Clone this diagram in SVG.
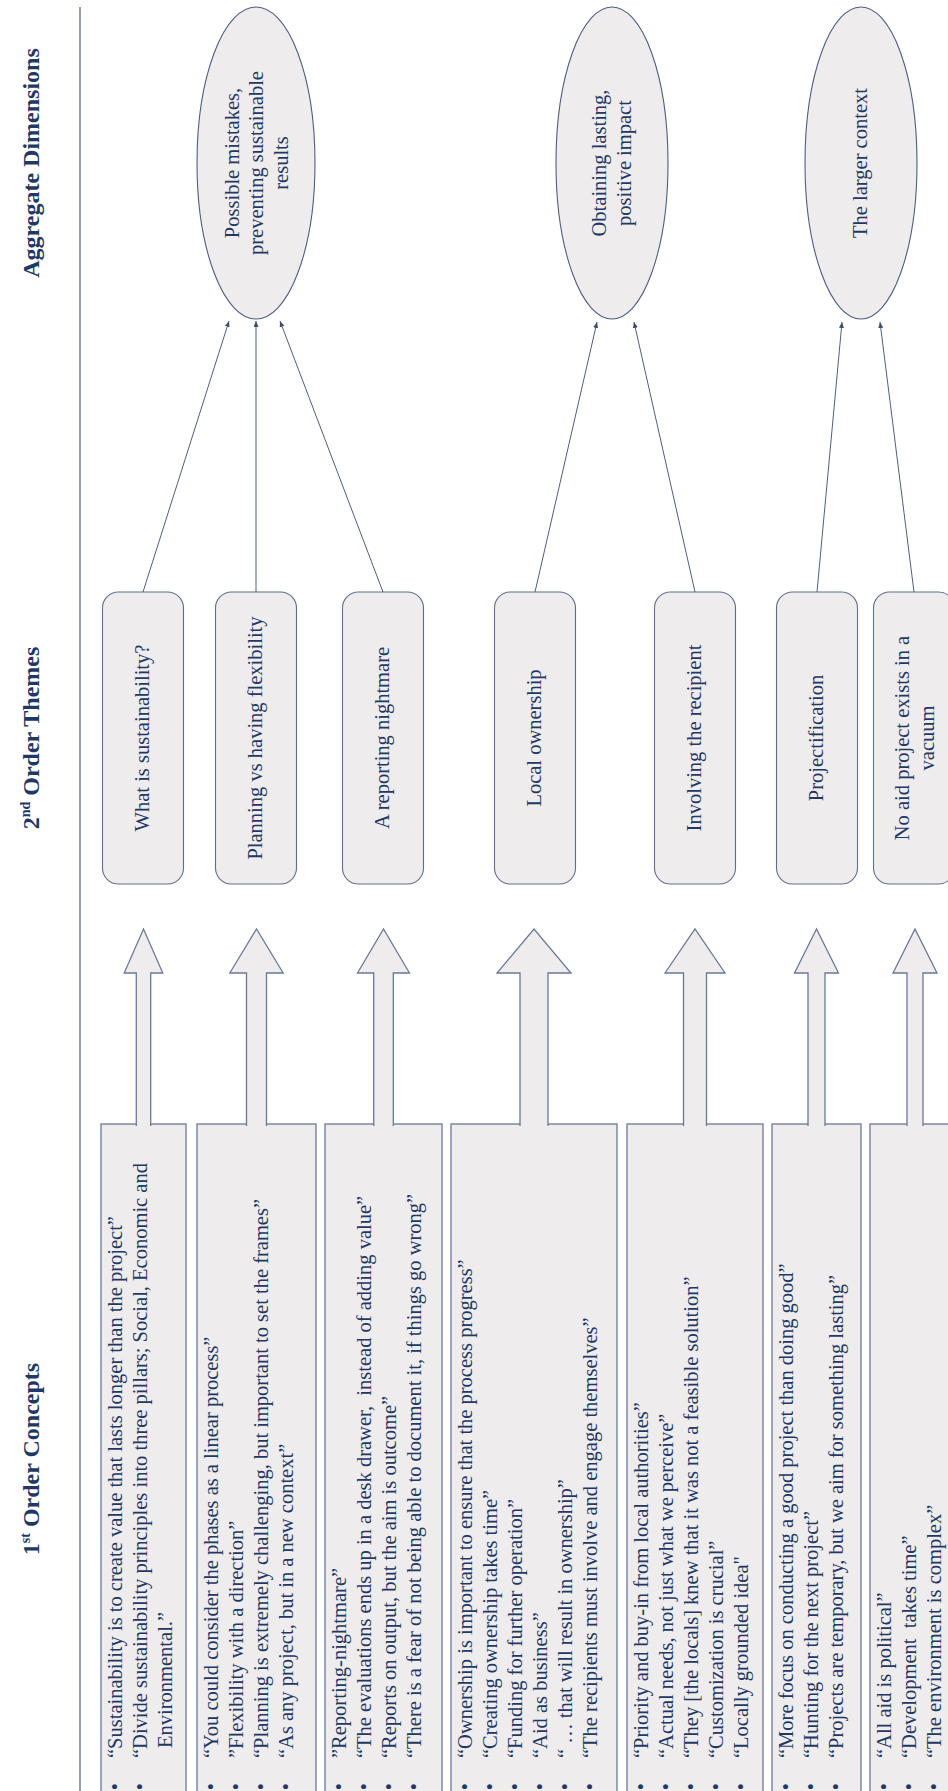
<svg xmlns="http://www.w3.org/2000/svg" width="948" height="1791" viewBox="0 0 948 1791">
  <defs>
    <style>
      .hd { font-family: "Liberation Serif", "Times New Roman", serif; font-weight: bold; font-size: 24px; fill: #1F3864; text-anchor: middle; }
      .tx { font-family: "Liberation Serif", "Times New Roman", serif; font-size: 20.5px; fill: #1F3864; }
      .mid { text-anchor: middle; }
      .box { fill: #EEECED; stroke: #6A7898; stroke-width: 1.3; }
      .theme { fill: #EEECED; stroke: #5F6E8E; stroke-width: 1.1; }
      .dim { fill: #EEECED; stroke: #4E5E80; stroke-width: 1.1; }
      .block { fill: #EEECED; stroke: #6A7898; stroke-width: 1.3; }
      .link { fill: none; stroke: #4E5E80; stroke-width: 1; marker-end: url(#tip); }
      .sep { stroke: #4E5E80; stroke-width: 1.2; }
    </style>
    <marker id="tip" viewBox="0 0 6 5" refX="6" refY="2.5" markerWidth="6" markerHeight="5" markerUnits="userSpaceOnUse" orient="auto">
      <path d="M0,0 L6,2.5 L0,5 z" fill="#3E4E70"/>
    </marker>
  </defs>

  <!-- Drawn as a landscape sheet, turned a quarter turn counter-clockwise -->
  <g transform="translate(0 1791) rotate(-90)">

    <!-- column headings -->
    <g id="headings">
      <text class="hd" x="332" y="39">1<tspan font-size="14" dy="-9">st</tspan><tspan dy="9"> Order Concepts</tspan></text>
      <text class="hd" x="1053" y="39">2<tspan font-size="14" dy="-9">nd</tspan><tspan dy="9"> Order Themes</tspan></text>
      <text class="hd" x="1628" y="39">Aggregate Dimensions</text>
      <line class="sep" x1="0" y1="80" x2="1784" y2="80"/>
    </g>

    <!-- 1st order concepts -->
    <g id="c1">
      <rect class="box" x="-10" y="101" width="677" height="85"/>
      <text class="tx mid" x="4.3" y="121.5">•</text>
      <text class="tx mid" x="4.3" y="146.5">•</text>
      <text class="tx" x="33" y="121.5">“Sustainability is to create value that lasts longer than the project”</text>
      <text class="tx" x="33" y="146.5">“Divide sustainability principles into three pillars; Social, Economic and</text>
      <text class="tx" x="43" y="171.5">Environmental.”</text>
    </g>
    <g id="c2">
      <rect class="box" x="-10" y="197" width="677" height="119"/>
      <text class="tx mid" x="4.3" y="217.5">•</text>
      <text class="tx mid" x="4.3" y="242.5">•</text>
      <text class="tx mid" x="4.3" y="267.5">•</text>
      <text class="tx mid" x="4.3" y="292.5">•</text>
      <text class="tx" x="33" y="217.5">“You could consider the phases as a linear process”</text>
      <text class="tx" x="33" y="242.5">”Flexibility with a direction”</text>
      <text class="tx" x="33" y="267.5">“Planning is extremely challenging, but important to set the frames”</text>
      <text class="tx" x="33" y="292.5">“As any project, but in a new context”</text>
    </g>
    <g id="c3">
      <rect class="box" x="-10" y="325" width="677" height="117"/>
      <text class="tx mid" x="4.3" y="345.5">•</text>
      <text class="tx mid" x="4.3" y="370.5">•</text>
      <text class="tx mid" x="4.3" y="395.5">•</text>
      <text class="tx mid" x="4.3" y="420.5">•</text>
      <text class="tx" x="33" y="345.5">”Reporting-nightmare”</text>
      <text class="tx" x="33" y="370.5">“The evaluations ends up in a desk drawer,&#160; instead of adding value”</text>
      <text class="tx" x="33" y="395.5">“Reports on output, but the aim is outcome”</text>
      <text class="tx" x="33" y="420.5">“There is a fear of not being able to document it, if things go wrong”</text>
    </g>
    <g id="c4">
      <rect class="box" x="-10" y="451" width="677" height="166"/>
      <text class="tx mid" x="4.3" y="471.5">•</text>
      <text class="tx mid" x="4.3" y="496.5">•</text>
      <text class="tx mid" x="4.3" y="521.5">•</text>
      <text class="tx mid" x="4.3" y="546.5">•</text>
      <text class="tx mid" x="4.3" y="571.5">•</text>
      <text class="tx mid" x="4.3" y="596.5">•</text>
      <text class="tx" x="33" y="471.5">“Ownership is important to ensure that the process progress”</text>
      <text class="tx" x="33" y="496.5">“Creating ownership takes time”</text>
      <text class="tx" x="33" y="521.5">“Funding for further operation”</text>
      <text class="tx" x="33" y="546.5">“Aid as business”</text>
      <text class="tx" x="33" y="571.5">“ … that will result in ownership”</text>
      <text class="tx" x="33" y="596.5">“The recipients must involve and engage themselves”</text>
    </g>
    <g id="c5">
      <rect class="box" x="-10" y="627" width="677" height="136"/>
      <text class="tx mid" x="4.3" y="647.5">•</text>
      <text class="tx mid" x="4.3" y="672.5">•</text>
      <text class="tx mid" x="4.3" y="697.5">•</text>
      <text class="tx mid" x="4.3" y="722.5">•</text>
      <text class="tx mid" x="4.3" y="747.5">•</text>
      <text class="tx" x="33" y="647.5">“Priority and buy-in from local authorities”</text>
      <text class="tx" x="33" y="672.5">“Actual needs, not just what we perceive”</text>
      <text class="tx" x="33" y="697.5">“They [the locals] knew that it was not a feasible solution”</text>
      <text class="tx" x="33" y="722.5">“Customization is crucial”</text>
      <text class="tx" x="33" y="747.5">“Locally grounded idea"</text>
    </g>
    <g id="c6">
      <rect class="box" x="-10" y="772" width="677" height="89"/>
      <text class="tx mid" x="4.3" y="792.5">•</text>
      <text class="tx mid" x="4.3" y="817.5">•</text>
      <text class="tx mid" x="4.3" y="842.5">•</text>
      <text class="tx" x="33" y="792.5">“More focus on conducting a good project than doing good”</text>
      <text class="tx" x="33" y="817.5">“Hunting for the next project”</text>
      <text class="tx" x="33" y="842.5">“Projects are temporary, but we aim for something lasting”</text>
    </g>
    <g id="c7">
      <rect class="box" x="-10" y="870" width="677" height="90"/>
      <text class="tx mid" x="4.3" y="890.5">•</text>
      <text class="tx mid" x="4.3" y="915.5">•</text>
      <text class="tx mid" x="4.3" y="940.5">•</text>
      <text class="tx" x="33" y="890.5">“All aid is political”</text>
      <text class="tx" x="33" y="915.5">“Development&#160; takes time”</text>
      <text class="tx" x="33" y="940.5">“The environment is complex”</text>
    </g>

    <!-- 2nd order themes -->
    <g id="t1">
      <rect class="theme" x="907" y="102.5" width="292" height="81" rx="16"/>
      <text class="tx mid" x="1053" y="149">What is sustainability?</text>
    </g>
    <g id="t2">
      <rect class="theme" x="907" y="215.5" width="292" height="81" rx="16"/>
      <text class="tx mid" x="1053" y="262">Planning vs having flexibility</text>
    </g>
    <g id="t3">
      <rect class="theme" x="907" y="342.5" width="292" height="81" rx="16"/>
      <text class="tx mid" x="1053" y="389">A reporting nightmare</text>
    </g>
    <g id="t4">
      <rect class="theme" x="907" y="494.5" width="292" height="81" rx="16"/>
      <text class="tx mid" x="1053" y="541">Local ownership</text>
    </g>
    <g id="t5">
      <rect class="theme" x="907" y="654.5" width="292" height="81" rx="16"/>
      <text class="tx mid" x="1053" y="701">Involving the recipient</text>
    </g>
    <g id="t6">
      <rect class="theme" x="907" y="776.5" width="292" height="81" rx="16"/>
      <text class="tx mid" x="1053" y="823">Projectification</text>
    </g>
    <g id="t7">
      <rect class="theme" x="907" y="873.5" width="292" height="81" rx="16"/>
      <text class="tx mid" x="1053" y="909">No aid project exists in a</text>
      <text class="tx mid" x="1053" y="934">vacuum</text>
    </g>

    <!-- aggregate dimensions -->
    <g id="d1">
      <ellipse class="dim" cx="1628" cy="256" rx="156" ry="59"/>
      <text class="tx mid" x="1628" y="238.5">Possible mistakes,</text>
      <text class="tx mid" x="1628" y="263">preventing sustainable</text>
      <text class="tx mid" x="1628" y="287.5">results</text>
    </g>
    <g id="d2">
      <ellipse class="dim" cx="1628" cy="612" rx="156" ry="56"/>
      <text class="tx mid" x="1628" y="606">Obtaining lasting,</text>
      <text class="tx mid" x="1628" y="631">positive impact</text>
    </g>
    <g id="d3">
      <ellipse class="dim" cx="1628" cy="861" rx="156" ry="56"/>
      <text class="tx mid" x="1628" y="867">The larger context</text>
    </g>

    <!-- connectors: block arrows from concepts to themes, thin arrows from themes to dimensions -->
    <g id="connectors">
      <path class="block" d="M665,136.3 H818 V124.2 L862,143.5 L818,162.8 V150.7 H665"/>
      <path class="block" d="M665,246.5 H818 V229.8 L862,256.5 L818,283.2 V266.5 H665"/>
      <path class="block" d="M665,373.7 H818 V357.5 L862,383.5 L818,409.5 V393.3 H665"/>
      <path class="block" d="M665,520 H818 V497 L862,534 L818,571 V548 H665"/>
      <path class="block" d="M665,683.5 H818 V665 L862,695 L818,725 V706.5 H665"/>
      <path class="block" d="M665,808 H818 V794.5 L862,816.5 L818,838.5 V825 H665"/>
      <path class="block" d="M665,907 H818 V893 L862,915 L818,937 V923 H665"/>

      <line class="link" x1="1199" y1="143" x2="1470" y2="229"/>
      <line class="link" x1="1199" y1="256" x2="1470" y2="256"/>
      <line class="link" x1="1199" y1="383" x2="1470" y2="280"/>
      <line class="link" x1="1199" y1="535" x2="1469" y2="597"/>
      <line class="link" x1="1199" y1="695" x2="1469" y2="634"/>
      <line class="link" x1="1199" y1="817" x2="1469" y2="842"/>
      <line class="link" x1="1199" y1="914" x2="1469" y2="880"/>
    </g>
  </g>
</svg>
